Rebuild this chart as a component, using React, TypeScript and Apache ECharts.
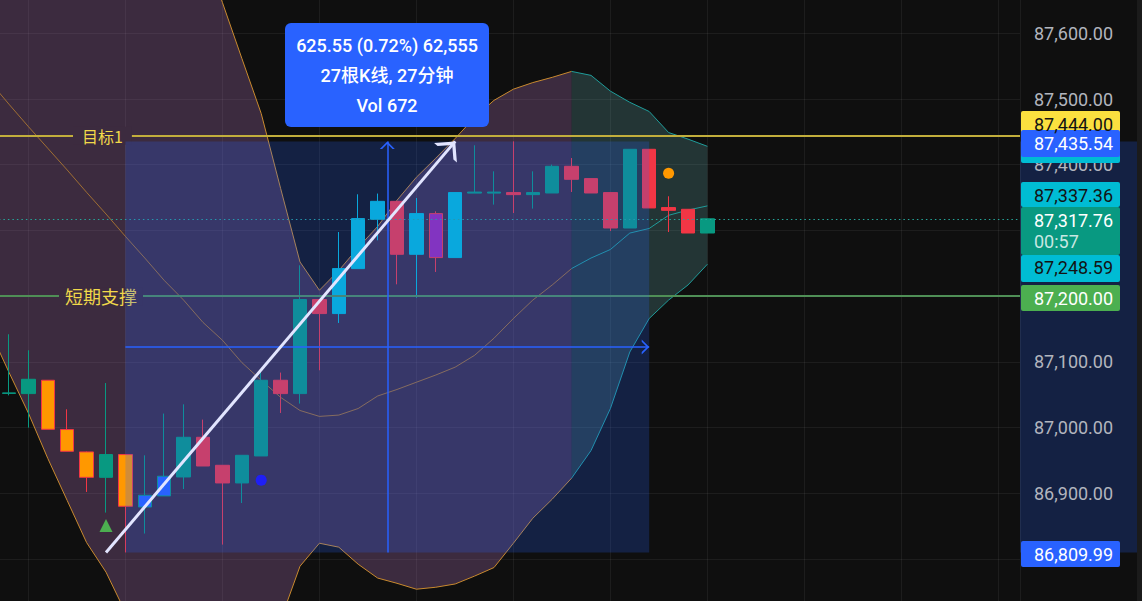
import React, { useEffect, useRef } from "react";
import * as echarts from "echarts";

// ---------- data ----------
const openPrices = [87052.8, 87051.7, 87072.0, 86997.0, 86962.9, 86924.3, 86958.9, 86879.1, 86896.0, 86924.8, 86985.2, 86942.6, 86915.7, 86956.8, 87072.0, 87051.7, 87194.8, 87173.5, 87241.9, 87317.0, 87344.3, 87263.7, 87325.6, 87258.7, 87356.8, 87356.8, 87357.6, 87354.5, 87357.0, 87397.6, 87378.9, 87357.6, 87303.7, 87423.5, 87334.8, 87332.2, 87296.1];
const closePrices = [87052.0, 87073.5, 86997.4, 86963.9, 86924.3, 86958.9, 86880.2, 86897.0, 86925.9, 86985.2, 86941.5, 86915.7, 86957.8, 87072.0, 87051.7, 87194.8, 87173.5, 87241.9, 87318.0, 87344.3, 87263.7, 87325.6, 87258.7, 87357.6, 87358.4, 87358.4, 87354.5, 87357.6, 87397.6, 87377.8, 87357.0, 87303.7, 87423.5, 87334.2, 87330.6, 87296.1, 87317.76];
const lowPrices = [87049.0, 87000.0, 86997.4, 86963.9, 86902.0, 86870.6, 86809.99, 86838.7, 86896.0, 86906.5, 86941.5, 86821.9, 86885.2, 86956.8, 87022.2, 87036.5, 87087.2, 87159.2, 87241.9, 87285.0, 87218.0, 87197.8, 87236.8, 87258.7, 87356.8, 87339.3, 87326.5, 87333.2, 87357.0, 87358.5, 87357.0, 87299.1, 87303.7, 87334.2, 87297.6, 87296.1, 87296.1];
const highPrices = [87142.0, 87117.6, 87072.0, 87027.8, 86963.5, 87067.8, 86958.9, 86957.8, 87021.3, 87035.4, 87012.1, 86942.6, 86957.8, 87084.6, 87083.7, 87247.0, 87194.8, 87297.6, 87355.0, 87356.1, 87344.3, 87349.4, 87329.1, 87357.6, 87429.6, 87390.0, 87435.54, 87390.0, 87400.2, 87410.2, 87378.9, 87357.6, 87423.5, 87423.5, 87352.0, 87332.2, 87317.76];
// candle colour keys (body / wick)
const bodyKeys = ["G","G","O","O","O","G","O","B","B","G","R","R","G","G","R","G","R","C","C","C","R","C","P","C","G","G","R","G","G","R","R","R","G","R","R","R","G"];
const wickKeys = ["G","G","R","R","R","G","R","G","G","G","R","R","G","G","R","G","R","C","C","C","R","C","R","C","G","G","R","G","G","R","R","R","G","R","R","R","G"];

// band values start one bar before the first visible candle (bar index -1)
const bandFirstBar = -1;
const upperBand = [88120, 88107, 88092, 88076, 88061, 88046, 88031, 88015, 87970, 87901, 87821, 87734, 87647, 87562, 87478, 87364, 87252, 87209, 87239, 87274, 87306, 87346, 87381, 87410, 87440, 87472, 87498, 87515, 87525, 87533, 87542, 87536, 87512, 87495, 87481, 87449, 87439, 87428];
const basisBand = [87527, 87492, 87458, 87425, 87392, 87358, 87325, 87291, 87258, 87224, 87194, 87160, 87133, 87099, 87072, 87046, 87026, 87017, 87019, 87029, 87048, 87058, 87069, 87080, 87092, 87110, 87136, 87166, 87194, 87217, 87242, 87258, 87271, 87296, 87303, 87323, 87331, 87337.36];
const lowerBand = [87148, 87084, 87022, 86953, 86889, 86825, 86780, 86719, 86661, 86615, 86585, 86570, 86570, 86600, 86646, 86707, 86789, 86824, 86818, 86792, 86771, 86763, 86754, 86757, 86762, 86774, 86787, 86824, 86862, 86891, 86923, 86965, 87029, 87115, 87166, 87194, 87217, 87248.59];
const bandColorSwitchBar = 29;

const targetLevel = 87444;
const targetText = "目标1";
const supportLevel = 87200;
const supportText = "短期支撑";
const lastPrice = 87317.76;

const measureFrom = 6;
const measureTo = 33;
const measureLow = 86809.99;
const measureHigh = 87435.54;
const measureLines = ["625.55 (0.72%) 62,555", "27根K线, 27分钟", "Vol 672"];

const trendFromIndex = 5;
const trendToIndex = 23;
const trendFromPrice = 86809.99;
const trendToPrice = 87435.54;

const markerIndex = [5, 13, 34];
const markerPrice = [86851, 86920, 87387];

const axisMin = 86700;
const axisMax = 87700;
const axisStep = 100;
// axis levels whose tick label is covered by a price tag or off-screen in the reference
const hiddenLevels = [87700, 87300, 87200, 86800, 86700];

const tagTexts = ["87,444.00", "87,435.54", "87,337.36", "87,317.76", "00:57", "87,248.59", "87,200.00", "86,809.99"];

// ---------- styles ----------
const PALETTE: Record<string, string> = {
  G: "#089981",
  R: "#f23645",
  O: "#ff9800",
  B: "#2962ff",
  C: "#00bcd4",
  P: "#9c27b0",
};
const markerStyles = [
  { symbol: "triangle", size: 13, color: "#4caf50" },
  { symbol: "circle", size: 11, color: "#1f1ff5" },
  { symbol: "circle", size: 11, color: "#ff9800" },
];
const BG = "#0f0f0f";
const GRID_LINE = "rgba(255,255,255,0.06)";
const X_OFFSET = 4; // axis value of candle i is i + X_OFFSET
const xv = (i: number) => i + X_OFFSET;
const CHEVRON_TIP = "path://M13,0L13.3,0L13,0.3Z M13,13L26,26L22,26L13,17L4,26L0,26Z";
const fmt = (v: number) =>
  v.toLocaleString("en-US", { minimumFractionDigits: 2, maximumFractionDigits: 2 });

function bandLine(vals: number[], fromBar: number, toBar: number, color: string, width: number) {
  const data: number[][] = [];
  for (let b = fromBar; b <= toBar; b++) data.push([xv(b), vals[b - bandFirstBar]]);
  return {
    type: "line",
    data,
    showSymbol: false,
    symbol: "none",
    silent: true,
    z: 2,
    lineStyle: { color, width },
  };
}

export default function App() {
  const ref = useRef<HTMLDivElement>(null);

  useEffect(() => {
    if (!ref.current) return;
    const chart = echarts.init(ref.current, undefined, { renderer: "svg" });

    const candles = openPrices.map((o, i) => {
      const body = PALETTE[bodyKeys[i]];
      const wick = PALETTE[wickKeys[i]];
      return {
        value: [xv(i), o, closePrices[i], lowPrices[i], highPrices[i]],
        itemStyle: { color: body, color0: body, borderColor: wick, borderColor0: wick, borderWidth: 1 },
      };
    });

    const lastBar = bandFirstBar + upperBand.length - 1;
    const midPrice = (measureLow + measureHigh) / 2;
    const midX = (xv(measureFrom) + xv(measureTo)) / 2;

    const option: any = {
      animation: false,
      backgroundColor: BG,
      grid: {
        left: -68.6,
        top: -32.4,
        width: 1088.6,
        height: 657.1,
        containLabel: false,
        outerBoundsMode: "none",
      },
      xAxis: {
        type: "value",
        min: 0,
        max: 56.113,
        interval: 5,
        axisLabel: { show: false },
        axisLine: { show: false },
        axisTick: { show: false },
        splitLine: { show: true, lineStyle: { color: GRID_LINE, width: 1 } },
      },
      yAxis: {
        type: "value",
        position: "right",
        min: axisMin,
        max: axisMax,
        interval: axisStep,
        axisLine: { show: false },
        axisTick: { show: false },
        splitLine: { show: true, lineStyle: { color: GRID_LINE, width: 1 } },
        axisLabel: {
          margin: 14,
          color: "#b2b5be",
          fontSize: 18,
          fontFamily: "Roboto",
          formatter: (v: number) => (hiddenLevels.includes(v) ? "" : fmt(v)),
        },
      },
      series: [
        {
          type: "custom",
          z: 1,
          silent: true,
          data: [
            [xv(bandFirstBar), basisBand[0]],
            [xv(bandColorSwitchBar), basisBand[bandColorSwitchBar - bandFirstBar]],
          ],
          encode: { x: 0, y: 1 },
          renderItem: (params: any, api: any) => {
            const seg = params.dataIndex;
            const from = seg === 0 ? bandFirstBar : bandColorSwitchBar;
            const to = seg === 0 ? bandColorSwitchBar : lastBar;
            const pts: number[][] = [];
            for (let b = from; b <= to; b++) pts.push(api.coord([xv(b), upperBand[b - bandFirstBar]]));
            for (let b = to; b >= from; b--) pts.push(api.coord([xv(b), lowerBand[b - bandFirstBar]]));
            return {
              type: "polygon",
              shape: { points: pts },
              style: { fill: seg === 0 ? "rgba(195,128,207,0.25)" : "rgba(120,220,220,0.19)" },
            };
          },
        },
        bandLine(upperBand, bandFirstBar, bandColorSwitchBar, "#c98a2e", 1),
        bandLine(upperBand, bandColorSwitchBar, lastBar, "#1f9c9a", 1),
        bandLine(lowerBand, bandFirstBar, bandColorSwitchBar, "#c98a2e", 1),
        bandLine(lowerBand, bandColorSwitchBar, lastBar, "#1f9c9a", 1),
        bandLine(basisBand, bandFirstBar, bandColorSwitchBar, "rgba(201,138,46,0.7)", 1),
        bandLine(basisBand, bandColorSwitchBar, lastBar, "#1f9c9a", 1),
        {
          type: "candlestick",
          z: 3,
          barWidth: 14,
          silent: true,
          data: candles,
        },
        {
          type: "line",
          z: 4,
          data: [],
          markLine: {
            z: 4,
            silent: true,
            symbol: ["none", "none"],
            data: [
              {
                yAxis: targetLevel,
                lineStyle: { color: "#c2ae3c", width: 2, type: "solid" },
                label: {
                  show: true,
                  position: "insideStart",
                  distance: [141.6, 0],
                  formatter: targetText,
                  color: "#f0d84a",
                  fontSize: 16,
                  fontFamily: "Noto Sans CJK SC",
                  backgroundColor: "#3c2b3f",
                  padding: [1, 9],
                },
              },
              {
                yAxis: supportLevel,
                lineStyle: { color: "#4f8f56", width: 2, type: "solid" },
                label: {
                  show: true,
                  position: "insideStart",
                  distance: [127.6, 0],
                  formatter: supportText,
                  color: "#f0d84a",
                  fontSize: 18,
                  fontFamily: "Noto Sans CJK SC",
                  backgroundColor: "#3c2b3f",
                  padding: [0, 6],
                },
              },
              {
                yAxis: lastPrice,
                lineStyle: { color: "#26a69a", width: 1, type: [1.5, 3] },
                label: { show: false },
              },
            ],
          },
        },
        {
          type: "line",
          z: 5,
          data: [],
          markArea: {
            z: 5,
            silent: true,
            itemStyle: { color: "rgba(41,98,255,0.22)" },
            data: [[{ xAxis: xv(measureFrom), yAxis: measureLow }, { xAxis: xv(measureTo), yAxis: measureHigh }]],
          },
        },
        {
          type: "line",
          z: 6,
          data: [],
          markLine: {
            z: 6,
            silent: true,
            symbol: ["none", CHEVRON_TIP],
            symbolSize: [15, 15],
            label: { show: false },
            lineStyle: { color: "#2962ff", width: 1.5, type: "solid", opacity: 1 },
            data: [
              [{ coord: [midX, measureLow] }, { coord: [midX, measureHigh] }],
              [{ coord: [xv(measureFrom), midPrice] }, { coord: [xv(measureTo), midPrice] }],
            ],
          },
        },
        {
          type: "line",
          z: 7,
          data: [],
          markLine: {
            z: 7,
            silent: true,
            symbol: ["none", CHEVRON_TIP],
            symbolSize: [30, 30],
            label: { show: false },
            lineStyle: { color: "#e2e5ff", width: 3, type: "solid", opacity: 1 },
            data: [[{ coord: [xv(trendFromIndex), trendFromPrice] }, { coord: [xv(trendToIndex), trendToPrice] }]],
          },
        },
        {
          type: "scatter",
          z: 8,
          silent: true,
          data: markerIndex.map((idx, k) => ({
            value: [xv(idx), markerPrice[k]],
            symbol: markerStyles[k].symbol,
            symbolSize: markerStyles[k].size,
            itemStyle: { color: markerStyles[k].color, opacity: 1 },
          })),
        },
      ],
    };

    chart.setOption(option);

    const yHi = chart.convertToPixel({ yAxisIndex: 0 }, measureHigh) as number;
    const yLo = chart.convertToPixel({ yAxisIndex: 0 }, measureLow) as number;

    const tagFont = "18px Roboto";
    const tag = (y: number, h: number, fill: string) => ({
      type: "rect",
      z: 10,
      shape: { x: 1021, y, width: 99, height: h, r: 2 },
      style: { fill },
    });
    const tagText = (text: string, y: number, fill: string) => ({
      type: "text",
      z: 11,
      x: 1034,
      y,
      style: { text, fill, font: tagFont, textAlign: "left", textVerticalAlign: "middle" },
    });

    chart.setOption({
      graphic: [
        {
          type: "rect",
          z: -1,
          shape: { x: 1020, y: yHi, width: 117, height: yLo - yHi },
          style: { fill: "rgba(41,98,255,0.22)" },
        },
        { type: "rect", z: 10, shape: { x: 1137, y: 0, width: 5, height: 601 }, style: { fill: "#1b1b1b" } },
        // info box
        { type: "rect", z: 12, shape: { x: 285, y: 23, width: 204, height: 104, r: 6 }, style: { fill: "#2962ff" } },
        ...measureLines.map((t, k) => ({
          type: "text",
          z: 13,
          x: 387,
          y: [45, 75.5, 105][k],
          style: {
            text: t,
            fill: "#ffffff",
            font: "500 18px Roboto, Noto Sans CJK SC",
            textAlign: "center",
            textVerticalAlign: "middle",
          },
        })),
        // price tags
        tag(111, 26, "#fbe03f"),
        tagText(tagTexts[0], 124, "#131313"),
        tag(137, 26, "#00bcd4"),
        tag(130, 27, "#2962ff"),
        tagText(tagTexts[1], 143.5, "#ffffff"),
        tag(182, 25, "#00bcd4"),
        tagText(tagTexts[2], 195, "#131313"),
        tag(207, 48, "#089981"),
        tagText(tagTexts[3], 220.5, "#ffffff"),
        tagText(tagTexts[4], 241, "rgba(255,255,255,0.78)"),
        tag(255, 27, "#00bcd4"),
        tagText(tagTexts[5], 267, "#131313"),
        tag(285, 26, "#4caf50"),
        tagText(tagTexts[6], 298, "#ffffff"),
        tag(541, 26, "#2962ff"),
        tagText(tagTexts[7], 554, "#ffffff"),
      ],
    });

    return () => chart.dispose();
  }, []);

  return (
    <div
      ref={ref}
      style={{ position: "absolute", left: 0, top: 0, width: 1142, height: 601 }}
    />
  );
}
